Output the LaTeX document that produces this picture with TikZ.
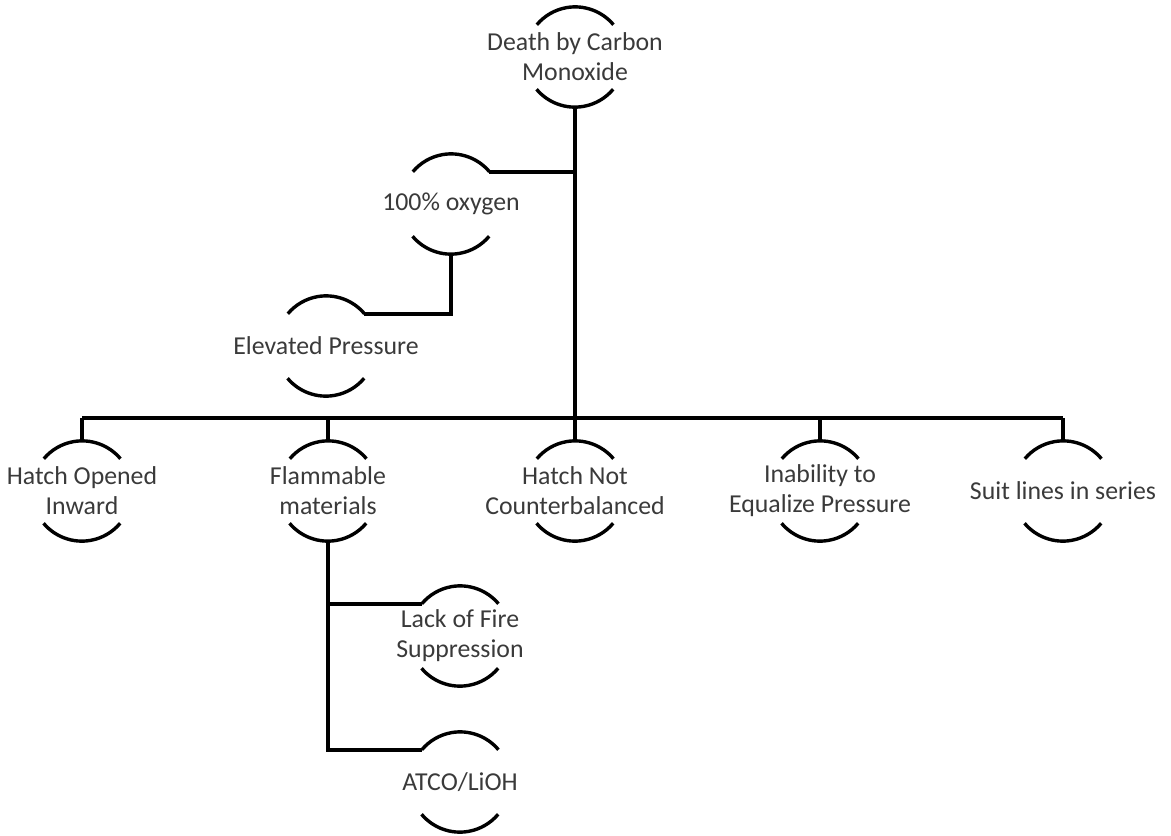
\documentclass[tikz,border=0pt]{standalone}
\usepackage{fontspec}
\setmainfont{Carlito}
\definecolor{txtgray}{HTML}{3A3A3A}
\tikzset{
  ring/.style={circle, minimum size=100pt, inner sep=0pt, draw=none},
  lbl/.style={inner sep=0pt, align=center, text=txtgray,
              font=\fontsize{25.8}{30}\selectfont},
  link/.style={line width=3.6pt, black},
  arcline/.style={line width=3.4pt, black},
}
% a cause: a text between two arcs of one circle
\newcommand\causenode[3]{%
  \node[ring] (#1) at (#2) {};
  \node[lbl] (#1-t) at (#1) {#3};
  \draw[arcline] (#1.40) arc[start angle=40, end angle=140, radius=50pt];
  \draw[arcline] (#1.220) arc[start angle=220, end angle=320, radius=50pt];
}
\begin{document}
\begin{tikzpicture}[x=1pt, y=-1pt]
\useasboundingbox (0,0) rectangle (1171,836);

% nodes
\causenode{top}{575,57}{Death by Carbon\\Monoxide}
\causenode{oxy}{451,204}{100\% oxygen}
\causenode{elev}{326,346}{Elevated Pressure}
\causenode{hatch}{82,491}{Hatch Opened\\Inward}
\causenode{flam}{328,491}{Flammable\\materials}
\causenode{counter}{575,491}{Hatch Not\\Counterbalanced}
\causenode{equal}{820,491}{Inability to\\Equalize Pressure}
\causenode{suit}{1063,491}{Suit lines in series}
\causenode{fire}{460,636}{Lack of Fire\\Suppression}
\causenode{atco}{460,782}{ATCO/LiOH}

% the horizontal bus under the top event
\coordinate (busL) at (82,418);
\coordinate (busR) at (1063,418);

% connectors
\draw[link] (top.south) -- (top.south |- busL);
\draw[link] (busL) -- (busR);
\draw[link] (oxy.40) -- (oxy.40 -| top.south);
\draw[link] (oxy.south) |- (elev.40);
\foreach \n in {hatch,flam,counter,equal,suit}
  \draw[link] (\n.north) -- (\n.north |- busL);
\draw[link] (flam.south) |- (fire.140);
\draw[link] (flam.south) |- (atco.140);
\end{tikzpicture}
\end{document}
